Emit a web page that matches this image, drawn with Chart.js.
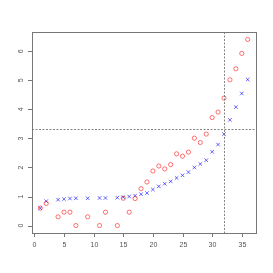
<!DOCTYPE html>
<html>
<head>
<meta charset="utf-8">
<script src="https://cdn.jsdelivr.net/npm/chart.js@4.4.1/dist/chart.umd.min.js"></script>
<style>
  html, body { margin: 0; padding: 0; background: #fff; }
  #wrap { width: 273px; height: 273px; }
</style>
</head>
<body>
<div id="wrap"><canvas id="plot" width="273" height="273"></canvas></div>
<script>
// index 1..36, null where the picture shows no point
const xIndex = Array.from({ length: 36 }, (_, i) => i + 1);
const redValues = [0.6, 0.76, null, 0.3, 0.46, 0.46, 0, null, 0.3, null, 0, 0.46, null, 0, 0.94, 0.46, 0.93, 1.27,
    1.5, 1.88, 2.05, 1.95, 2.1, 2.47, 2.39, 2.53, 3.01, 2.86, 3.15, 3.72, 3.91, 4.39, 5.02, 5.4, 5.93, 6.41];
const blueValues = [0.6, 0.84, null, 0.89, 0.91, 0.93, 0.94, null, 0.94, null, 0.95, 0.95, null, 0.96, 0.98, 1.0, 1.03, 1.08,
    1.12, 1.24, 1.35, 1.44, 1.52, 1.64, 1.73, 1.84, 2.0, 2.12, 2.25, 2.54, 2.79, 3.15, 3.64, 4.08, 4.55, 5.03];
const xTicks = [0, 5, 10, 15, 20, 25, 30, 35];
const yTicks = [0, 1, 2, 3, 4, 5, 6];
const vLine = 32;
const hLine = 3.31;

function toPoints(values) {
    return xIndex.map((x, i) => ({ x: x, y: values[i] })).filter(p => p.y !== null);
}

// R-style axes, box and ablines drawn from the chart's scales
const baseAxes = {
    id: 'baseAxes',
    afterDatasetsDraw(chart) {
        const ctx = chart.ctx;
        const a = chart.chartArea;
        const xs = chart.scales.x;
        const ys = chart.scales.y;
        ctx.save();

        // reference lines
        ctx.strokeStyle = '#666';
        ctx.lineWidth = 0.8;
        ctx.setLineDash([2, 1.5]);
        const vx = Math.round(xs.getPixelForValue(vLine)) + 0.5;
        const hy = Math.round(ys.getPixelForValue(hLine)) + 0.5;
        ctx.beginPath();
        ctx.moveTo(vx, a.top); ctx.lineTo(vx, a.bottom);
        ctx.moveTo(a.left, hy); ctx.lineTo(a.right, hy);
        ctx.stroke();
        ctx.setLineDash([]);
        ctx.lineWidth = 1;

        // box
        ctx.strokeStyle = '#777';
        ctx.strokeRect(Math.round(a.left) + 0.5, Math.round(a.top) + 0.5,
            Math.round(a.right - a.left), Math.round(a.bottom - a.top));

        ctx.fillStyle = '#555';
        ctx.font = '7px "Liberation Sans", Arial, sans-serif';

        // x axis
        ctx.textAlign = 'center';
        ctx.textBaseline = 'top';
        ctx.beginPath();
        xTicks.forEach(t => {
            const px = Math.round(xs.getPixelForValue(t)) + 0.5;
            ctx.moveTo(px, a.bottom); ctx.lineTo(px, a.bottom + 4);
            ctx.fillText(String(t), px, a.bottom + 9);
        });
        ctx.stroke();

        // y axis, labels rotated like R
        ctx.beginPath();
        yTicks.forEach(t => {
            const py = Math.round(ys.getPixelForValue(t)) + 0.5;
            ctx.moveTo(a.left, py); ctx.lineTo(a.left - 4, py);
        });
        ctx.stroke();
        yTicks.forEach(t => {
            const py = ys.getPixelForValue(t);
            ctx.save();
            ctx.translate(a.left - 11, py);
            ctx.rotate(-Math.PI / 2);
            ctx.textBaseline = 'middle';
            ctx.fillText(String(t), 0, 0);
            ctx.restore();
        });

        ctx.restore();
    }
};

new Chart(document.getElementById('plot'), {
    type: 'scatter',
    data: {
        datasets: [
            {
                label: 'red',
                data: toPoints(redValues),
                pointStyle: 'circle',
                pointRadius: 2.1,
                borderWidth: 1,
                borderColor: 'rgba(255,0,0,0.55)',
                backgroundColor: 'rgba(0,0,0,0)'
            },
            {
                label: 'blue',
                data: toPoints(blueValues),
                pointStyle: 'crossRot',
                pointRadius: 2.5,
                borderWidth: 1,
                borderColor: 'rgba(0,0,255,0.6)',
                backgroundColor: 'rgba(0,0,255,0.6)'
            }
        ]
    },
    options: {
        responsive: false,
        animation: false,
        devicePixelRatio: 1,
        layout: { padding: { left: 32, top: 32, right: 17, bottom: 40 } },
        plugins: { legend: { display: false }, tooltip: { enabled: false } },
        scales: {
            x: { type: 'linear', min: -0.4, max: 37.4, display: false },
            y: { type: 'linear', min: -0.257, max: 6.667, display: false }
        }
    },
    plugins: [baseAxes]
});
</script>
</body>
</html>
